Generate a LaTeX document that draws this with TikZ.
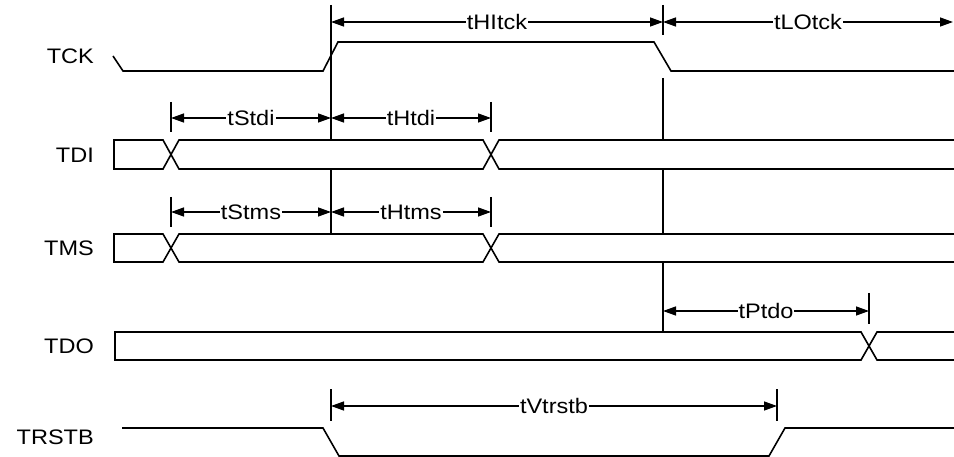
\documentclass[tikz,border=0pt]{standalone}
\usepackage{fontspec}
\setmainfont{Liberation Sans}
\usetikzlibrary{arrows.meta}
\newcommand{\lbx}[1]{\scalebox{1.12}[1]{#1}}
\begin{document}
\begin{tikzpicture}[x=1pt,y=-1pt,
  sig/.style={line width=1.6pt, line join=miter},
  vln/.style={line width=1.8pt},
  dim/.style={line width=1.4pt, {Triangle[length=13pt,width=9pt]}-{Triangle[length=13pt,width=9pt]}},
  dimlbl/.style={fill=white, inner sep=1pt, font=\fontsize{21}{25}\selectfont},
  siglbl/.style={anchor=east, inner sep=0pt, font=\fontsize{21}{25}\selectfont}]
\useasboundingbox (0,0) rectangle (954,457);
\fill[white] (0,0) rectangle (954,457);

% signal names
\node[siglbl] (tck) at (94,56) {\lbx{TCK}};
\node[siglbl] (tdi) at (94,155) {\lbx{TDI}};
\node[siglbl] (tms) at (94,248) {\lbx{TMS}};
\node[siglbl] (tdo) at (94,346) {\lbx{TDO}};
\node[siglbl] (trstb) at (94,437) {\lbx{TRSTB}};

% TCK
\draw[sig] (113,56) -- (123,71) -- (323,71) -- (338,42) -- (654,42) -- (671,71) -- (956,71);
% TDI
\draw[sig] (956,140) -- (499,140) -- (483,169) -- (179,169) -- (163,140) -- (114,140) -- (114,169) -- (163,169) -- (179,140) -- (483,140) -- (499,169) -- (956,169);
% TMS
\draw[sig] (956,234) -- (499,234) -- (483,262) -- (179,262) -- (163,234) -- (114,234) -- (114,262) -- (163,262) -- (179,234) -- (483,234) -- (499,262) -- (956,262);
% TDO
\draw[sig] (956,332) -- (877,332) -- (861,360) -- (115,360) -- (115,332) -- (861,332) -- (877,360) -- (956,360);
% TRSTB
\draw[sig] (122,428) -- (323,428) -- (339,456) -- (769,456) -- (785,428) -- (956,428);

% reference lines
\draw[vln] (331,5) -- (331,140) (331,169) -- (331,234);
\draw[vln] (663,5) -- (663,35) (663,78) -- (663,140) (663,169) -- (663,234) (663,262) -- (663,332);
\draw[vln] (171,102) -- (171,132) (491,102) -- (491,132);
\draw[vln] (171,197) -- (171,227) (491,197) -- (491,227);
\draw[vln] (869,293) -- (869,324);
\draw[vln] (331,389) -- (331,421) (777,389) -- (777,421);

% dimension points
\coordinate (a1) at (331,22); \coordinate (a2) at (663,22); \coordinate (a3) at (953,22);
\coordinate (b1) at (171,118); \coordinate (b2) at (331,118); \coordinate (b3) at (491,118);
\coordinate (c1) at (171,212); \coordinate (c2) at (331,212); \coordinate (c3) at (491,212);
\coordinate (d1) at (663,311); \coordinate (d2) at (869,311);
\coordinate (e1) at (331,406); \coordinate (e2) at (777,406);

\draw[dim] (a1) -- (a2) node[dimlbl, midway] (thi) {\lbx{tHItck}};
\draw[dim] (a2) -- (a3) node[dimlbl, midway] (tlo) {\lbx{tLOtck}};
\draw[dim] (b1) -- (b2) node[dimlbl, midway] (tstdi) {\lbx{tStdi}};
\draw[dim] (b2) -- (b3) node[dimlbl, midway] (thtdi) {\lbx{tHtdi}};
\draw[dim] (c1) -- (c2) node[dimlbl, midway] (tstms) {\lbx{tStms}};
\draw[dim] (c2) -- (c3) node[dimlbl, midway] (thtms) {\lbx{tHtms}};
\draw[dim] (d1) -- (d2) node[dimlbl, midway] (tptdo) {\lbx{tPtdo}};
\draw[dim] (e1) -- (e2) node[dimlbl, midway] (tvtr) {\lbx{tVtrstb}};
\end{tikzpicture}
\end{document}
